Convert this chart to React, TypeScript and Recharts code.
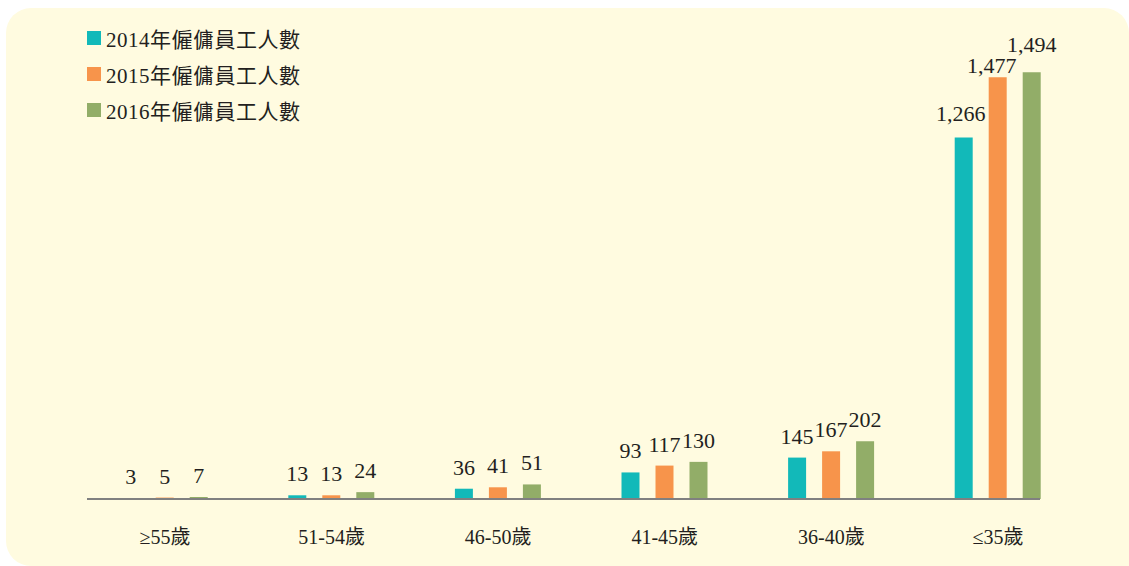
import React from 'react';
import { BarChart, Bar, XAxis, YAxis, LabelList, Legend } from 'recharts';

const categories = ['≥55歲', '51-54歲', '46-50歲', '41-45歲', '36-40歲', '≤35歲'];
const staff2014 = [3, 13, 36, 93, 145, 1266];
const staff2015 = [5, 13, 41, 117, 167, 1477];
const staff2016 = [7, 24, 51, 130, 202, 1494];
const seriesNames = ['2014年僱傭員工人數', '2015年僱傭員工人數', '2016年僱傭員工人數'];

const data = categories.map((name, i) => ({
  name,
  y2014: staff2014[i],
  y2015: staff2015[i],
  y2016: staff2016[i],
}));

const FONT = '"Liberation Serif", "Noto Sans CJK TC", serif';
const TEXT = '#231f20';

// hand placement of the crowded labels over the last group
const nudges: Record<string, { dx: number; dy: number }> = {
  'y2014-5': { dx: -3, dy: -2 },
  'y2015-5': { dx: -6, dy: 10 },
  'y2016-5': { dx: 0, dy: -6 },
};

const makeLabel = (key: string) => (props: any) => {
  const { x, y, width, value, index } = props;
  const n = nudges[`${key}-${index}`] || { dx: 0, dy: 0 };
  return (
    <text x={x + width / 2 + n.dx} y={y - 14 + n.dy} textAnchor="middle"
      fill={TEXT} fontSize={22} fontFamily={FONT}>
      {Number(value).toLocaleString('en-US')}
    </text>
  );
};

function LegendBox({ payload }: any) {
  return (
    <div style={{ fontFamily: FONT, fontSize: 21, color: TEXT, textAlign: 'left', letterSpacing: 0.5 }}>
      {(payload || []).map((p: any) => (
        <div key={p.value} style={{ display: 'flex', alignItems: 'center', height: 36 }}>
          <span style={{ display: 'inline-block', width: 14, height: 14, background: p.color, marginRight: 5 }} />
          <span>{p.value}</span>
        </div>
      ))}
    </div>
  );
}

export default function App() {
  return (
    <div style={{ position: 'absolute', left: 0, top: 0, width: 1129, height: 566, background: '#fff' }}>
      <div
        style={{
          position: 'absolute', left: 6, top: 8, width: 1123, height: 558,
          background: '#fffbe0', borderRadius: '25px 25px 0 25px',
        }}
      />
      <div style={{ position: 'absolute', left: 0, top: 0 }}>
        <BarChart width={1129} height={566} data={data} barSize={18} barGap={16}
          margin={{ top: 42, right: 89, left: 87, bottom: 37 }}>
          {/* axis line is shorter than the band range, so pad outward */}
          <XAxis dataKey="name" tickLine={false} tickMargin={25} height={30}
            padding={{ left: -5.3, right: -41.3 }}
            axisLine={{ stroke: '#808080', strokeWidth: 2 }}
            tick={{ fill: TEXT, fontSize: 20, fontFamily: FONT }} interval={0} />
          <YAxis domain={[0, 1600]} hide />
          <Legend layout="vertical" verticalAlign="middle" align="center" content={<LegendBox />}
            wrapperStyle={{ left: 87, top: 20, width: 320 }} />
          <Bar dataKey="y2014" name={seriesNames[0]} fill="#12b9b9" isAnimationActive={false}>
            <LabelList dataKey="y2014" content={makeLabel('y2014')} />
          </Bar>
          <Bar dataKey="y2015" name={seriesNames[1]} fill="#f7944b" isAnimationActive={false}>
            <LabelList dataKey="y2015" content={makeLabel('y2015')} />
          </Bar>
          <Bar dataKey="y2016" name={seriesNames[2]} fill="#92ad68" isAnimationActive={false}>
            <LabelList dataKey="y2016" content={makeLabel('y2016')} />
          </Bar>
        </BarChart>
      </div>
    </div>
  );
}
